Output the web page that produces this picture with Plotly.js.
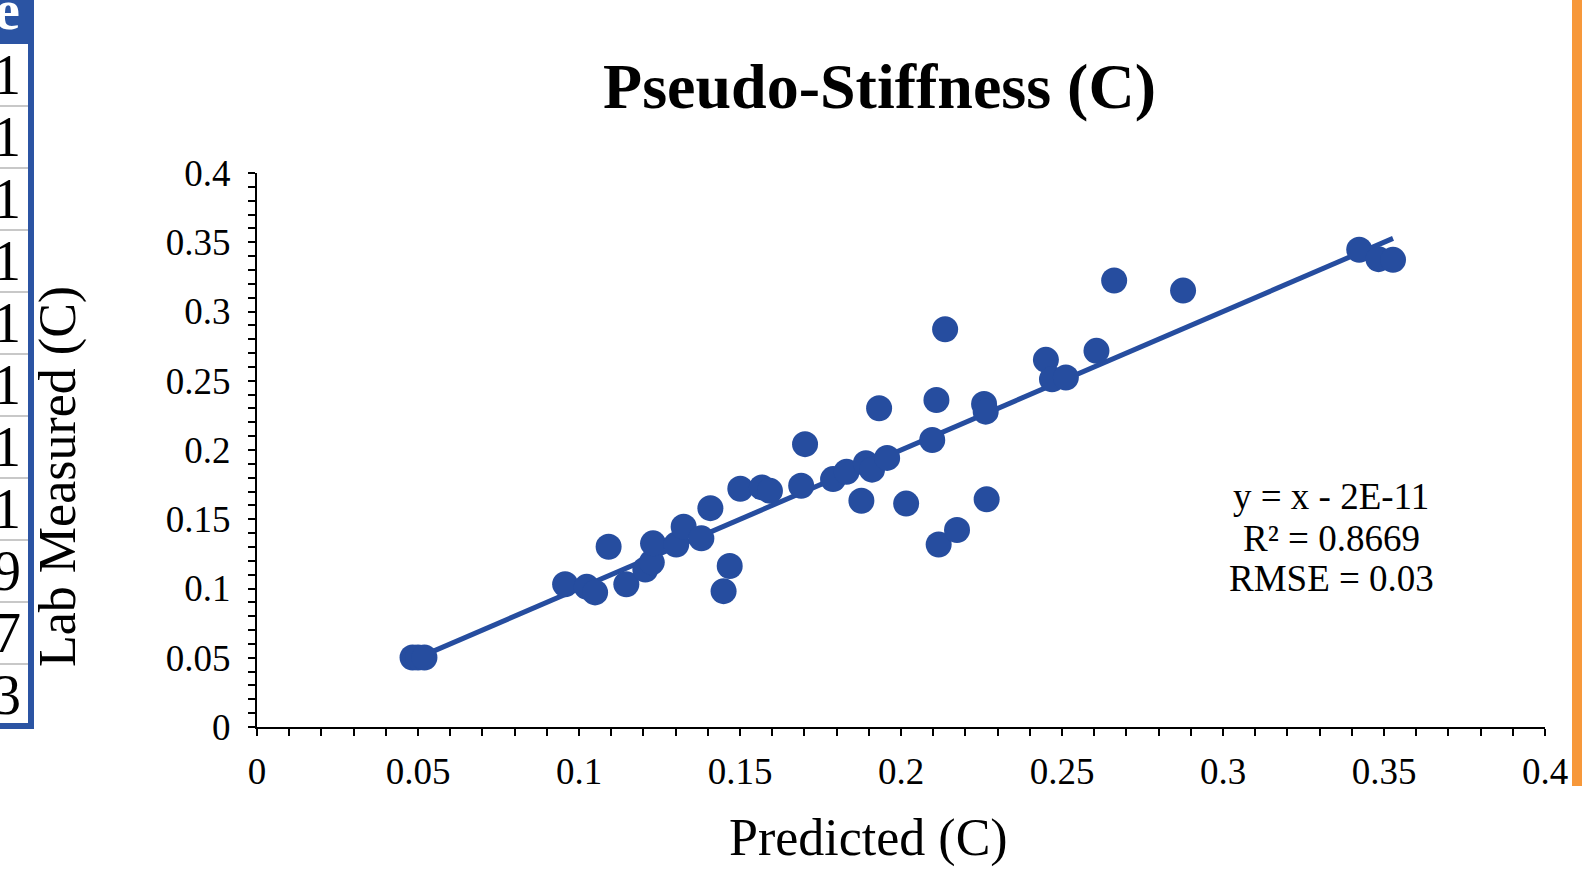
<!DOCTYPE html>
<html>
<head>
<meta charset="utf-8">
<script src="https://cdn.plot.ly/plotly-3.0.1.min.js"></script>
<style>html,body{margin:0;padding:0;background:#fff;}#chart{width:1582px;height:875px;}</style>
</head>
<body>
<div id="chart"></div>
<script>
// ---- data ----
const predicted = [0.0483, 0.0500, 0.0520, 0.0957, 0.1024, 0.1050, 0.1092, 0.1147,
  0.1206, 0.1226, 0.1230, 0.1302, 0.1325, 0.1380, 0.1408, 0.1468, 0.1449, 0.1501,
  0.1568, 0.1593, 0.1690, 0.1702, 0.1789, 0.1831, 0.1877, 0.1891, 0.1910, 0.1957,
  0.1932, 0.2016, 0.2097, 0.2110, 0.2117, 0.2174, 0.2258, 0.2263, 0.2266, 0.2137,
  0.2450, 0.2469, 0.2512, 0.2607, 0.2662, 0.2876, 0.3423, 0.3483, 0.3528];
const measured = [0.0502, 0.0502, 0.0502, 0.1031, 0.1012, 0.0972, 0.1301, 0.1031,
  0.1137, 0.1189, 0.1326, 0.1317, 0.1446, 0.1362, 0.1580, 0.1162, 0.0981, 0.1720,
  0.1730, 0.1705, 0.1742, 0.2042, 0.1790, 0.1843, 0.1634, 0.1904, 0.1858, 0.1943,
  0.2301, 0.1613, 0.2072, 0.2361, 0.1318, 0.1422, 0.2332, 0.2277, 0.1644, 0.2872,
  0.2651, 0.2511, 0.2523, 0.2716, 0.3224, 0.3151, 0.3446, 0.3378, 0.3373];
const trendSlope = 1;
const trendIntercept = -2e-11;
const tickVals = [0, 0.05, 0.1, 0.15, 0.2, 0.25, 0.3, 0.35, 0.4];
const tickText = ['0', '0.05', '0.1', '0.15', '0.2', '0.25', '0.3', '0.35', '0.4'];
const statLines = ['y = x - 2E-11', 'R² = 0.8669', 'RMSE = 0.03'];
const tableHeader = 'e';
const tableDigits = ['1', '1', '1', '1', '1', '1', '1', '1', '9', '7', '3'];

// ---- layout helpers ----
const W = 1582, H = 875;
const M = {l: 257, r: 37, t: 173, b: 148};
const PW = W - M.l - M.r, PH = H - M.t - M.b;
const px = v => (v - M.l) / PW;          // pixel x -> paper x
const py = v => (H - M.b - v) / PH;      // pixel y -> paper y
const FONT = 'Liberation Serif, Times New Roman, serif';
const BLUE = '#264D9F';

const xMin = Math.min(...predicted), xMax = Math.max(...predicted);
const trendX = [xMin, xMax];
const trendY = trendX.map(x => trendSlope * x + trendIntercept);

const traces = [
  {x: trendX, y: trendY, type: 'scatter', mode: 'lines',
   line: {color: BLUE, width: 5}, hoverinfo: 'skip'},
  {x: predicted, y: measured, type: 'scatter', mode: 'markers',
   marker: {color: BLUE, size: 26, line: {width: 0}}, hoverinfo: 'x+y'}
];

const axisCommon = {
  range: [0, 0.4], tickmode: 'array', tickvals: tickVals, ticktext: tickText,
  ticks: 'outside', ticklen: 7, tickwidth: 2, tickcolor: '#000',
  showline: true, linewidth: 2, linecolor: '#000', showgrid: false, zeroline: false,
  tickfont: {family: FONT, size: 37, color: '#000'},
  minor: {tickmode: 'linear', tick0: 0, dtick: 0.01, ticks: 'outside', ticklen: 7,
          tickwidth: 2, tickcolor: '#000', showgrid: false},
  fixedrange: true
};

const shapes = [];
const annotations = [];

// table fragment at left edge
shapes.push({type: 'rect', xref: 'paper', yref: 'paper', x0: px(0), x1: px(29), y0: py(0), y1: py(44),
  fillcolor: '#2B54A3', line: {width: 0}, layer: 'above'});
const rowTop = 44, rowH = 62;
for (let i = 1; i < tableDigits.length; i++) {
  const yy = rowTop + i * rowH;
  shapes.push({type: 'line', xref: 'paper', yref: 'paper', x0: px(0), x1: px(29), y0: py(yy), y1: py(yy),
    line: {color: '#C8C8C8', width: 2}});
}
shapes.push({type: 'rect', xref: 'paper', yref: 'paper', x0: px(28), x1: px(34), y0: py(0), y1: py(729),
  fillcolor: '#2B54A3', line: {width: 0}});
shapes.push({type: 'rect', xref: 'paper', yref: 'paper', x0: px(0), x1: px(34), y0: py(723), y1: py(729),
  fillcolor: '#2B54A3', line: {width: 0}});
// orange strip at right edge
shapes.push({type: 'rect', xref: 'paper', yref: 'paper', x0: px(1572), x1: px(1582), y0: py(0), y1: py(786),
  fillcolor: '#F7983A', line: {width: 0}});

annotations.push({xref: 'paper', yref: 'paper', x: px(22), y: py(10), xanchor: 'right', yanchor: 'middle',
  text: '<b>' + tableHeader + '</b>', showarrow: false, font: {family: FONT, size: 56, color: '#fff'}});
tableDigits.forEach((d, i) => {
  annotations.push({xref: 'paper', yref: 'paper', x: px(23), y: py(rowTop + rowH * (i + 0.5)),
    xanchor: 'right', yanchor: 'middle', text: d, showarrow: false,
    font: {family: FONT, size: 56, color: '#000'}});
});

// axis titles
annotations.push({xref: 'paper', yref: 'paper', x: px(868), y: py(838), xanchor: 'center', yanchor: 'middle',
  text: 'Predicted (C)', showarrow: false, font: {family: FONT, size: 52, color: '#000'}});
annotations.push({xref: 'paper', yref: 'paper', x: px(58), y: py(477), xanchor: 'center', yanchor: 'middle',
  text: 'Lab Measured (C)', textangle: -90, showarrow: false, font: {family: FONT, size: 52, color: '#000'}});

// regression statistics
const statY = [496, 538, 578];
statLines.forEach((t, i) => {
  annotations.push({xref: 'paper', yref: 'paper', x: px(1331), y: py(statY[i]), xanchor: 'center', yanchor: 'middle',
    text: t, showarrow: false, font: {family: FONT, size: 37, color: '#000'}});
});

const layout = {
  width: W, height: H, margin: {l: M.l, r: M.r, t: M.t, b: M.b, pad: 0},
  paper_bgcolor: '#fff', plot_bgcolor: '#fff', showlegend: false,
  title: {text: '<b>Pseudo-Stiffness (C)</b>', font: {family: FONT, size: 64, color: '#000'},
    xref: 'container', yref: 'container', x: 879.5 / W, xanchor: 'center', y: 1 - 86 / H, yanchor: 'middle'},
  xaxis: Object.assign({}, axisCommon, {ticklabelstandoff: 4}),
  yaxis: Object.assign({}, axisCommon, {ticklabelstandoff: 10}),
  shapes: shapes, annotations: annotations
};

Plotly.newPlot('chart', traces, layout, {displayModeBar: false, staticPlot: true});
</script>
</body>
</html>
